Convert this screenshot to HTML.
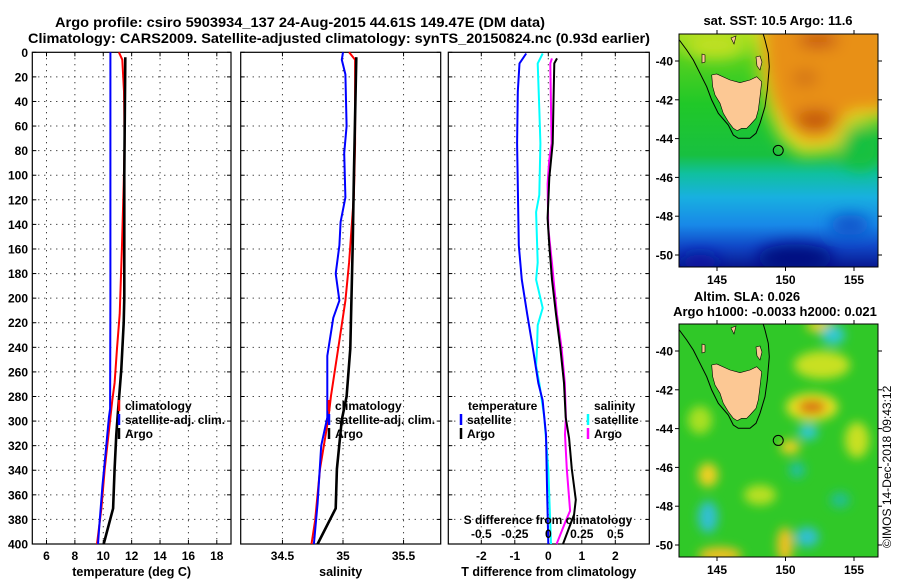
<!DOCTYPE html>
<html><head><meta charset="utf-8"><title>Argo profile</title>
<style>
html,body{margin:0;padding:0;background:#fff;}
svg{display:block;font-family:"Liberation Sans",Arial,sans-serif;font-weight:bold;}
</style></head>
<body>
<svg id="chart" width="900" height="580" viewBox="0 0 900 580" xmlns="http://www.w3.org/2000/svg">
<defs>
  <filter id="blur8" x="-50%" y="-50%" width="200%" height="200%"><feGaussianBlur stdDeviation="8"/></filter>
  <filter id="blur5" x="-50%" y="-50%" width="200%" height="200%"><feGaussianBlur stdDeviation="5"/></filter>
  <clipPath id="clipTop"><rect x="679" y="34" width="199" height="233"/></clipPath>
  <clipPath id="clipBot"><rect x="679" y="324" width="199" height="233"/></clipPath>
  <linearGradient id="sstGrad" x1="0" y1="0" x2="0" y2="1">
    <stop offset="0" stop-color="#a8e020"/>
    <stop offset="0.12" stop-color="#50d020"/>
    <stop offset="0.3" stop-color="#20c828"/>
    <stop offset="0.52" stop-color="#18c040"/>
    <stop offset="0.6" stop-color="#10c0a0"/>
    <stop offset="0.7" stop-color="#18b0e0"/>
    <stop offset="0.82" stop-color="#1888e8"/>
    <stop offset="0.91" stop-color="#1048c8"/>
    <stop offset="1" stop-color="#081890"/>
  </linearGradient>
</defs>
<rect x="0" y="0" width="900" height="580" fill="#fff"/>

<text x="55" y="27" font-size="14" textLength="490" lengthAdjust="spacingAndGlyphs">Argo profile: csiro 5903934_137 24-Aug-2015 44.61S 149.47E (DM data)</text>
<text x="28" y="43" font-size="14" textLength="622" lengthAdjust="spacingAndGlyphs">Climatology: CARS2009. Satellite-adjusted climatology: synTS_20150824.nc (0.93d earlier)</text>

<g id="profiles"></g>

<g>
  <text x="778" y="25" font-size="13" text-anchor="middle">sat. SST: 10.5 Argo: 11.6</text>
  <g clip-path="url(#clipTop)">
    <rect x="679" y="34" width="199" height="233" fill="url(#sstGrad)"/>
    <g filter="url(#blur8)">
      <polygon points="755,20 890,20 890,118 850,125 835,152 800,155 780,138 768,112 760,80" fill="#e8e020"/>
      <polygon points="762,20 890,20 890,110 850,112 830,140 805,142 785,125 772,100 765,70" fill="#e89018"/>
      <ellipse cx="815" cy="120" rx="20" ry="10" fill="#c05010"/>
      <ellipse cx="818" cy="40" rx="20" ry="6" fill="#b83010"/>
      <ellipse cx="805" cy="78" rx="12" ry="6" fill="#c86010"/>
      <ellipse cx="715" cy="45" rx="30" ry="14" fill="#c0e020"/>
      <ellipse cx="860" cy="148" rx="20" ry="22" fill="#18c040"/>
      <ellipse cx="795" cy="258" rx="38" ry="14" fill="#000880"/>
      <ellipse cx="700" cy="262" rx="20" ry="8" fill="#0818a0"/>
      <ellipse cx="850" cy="225" rx="20" ry="10" fill="#1050c8"/>
    </g>
  </g>
  <g class="geo"></g>
  <rect x="679" y="34" width="199" height="233" fill="none" stroke="#000" stroke-width="1"/>
</g>

<g>
  <text x="747" y="301" font-size="13" text-anchor="middle">Altim. SLA: 0.026</text>
  <text x="775" y="316" font-size="13" text-anchor="middle">Argo h1000: -0.0033 h2000: 0.021</text>
  <g clip-path="url(#clipBot)">
    <rect x="679" y="324" width="199" height="233" fill="#30c828"/>
    <g filter="url(#blur5)">
      <ellipse cx="812" cy="407" rx="26" ry="14" fill="#e8e020"/>
      <ellipse cx="812" cy="407" rx="14" ry="7" fill="#d87010"/>
      <ellipse cx="822" cy="365" rx="28" ry="14" fill="#c8e020"/>
      <ellipse cx="820" cy="326" rx="14" ry="6" fill="#f0d020"/>
      <ellipse cx="708" cy="475" rx="10" ry="12" fill="#f0d020"/>
      <ellipse cx="790" cy="447" rx="10" ry="7" fill="#f0d020"/>
      <ellipse cx="857" cy="440" rx="12" ry="18" fill="#c8e020"/>
      <ellipse cx="700" cy="420" rx="12" ry="14" fill="#a8e020"/>
      <ellipse cx="785" cy="545" rx="8" ry="18" fill="#f0c020"/>
      <ellipse cx="720" cy="555" rx="22" ry="8" fill="#f0c020"/>
      <ellipse cx="760" cy="495" rx="16" ry="10" fill="#b8e020"/>
      <ellipse cx="808" cy="432" rx="10" ry="8" fill="#30c8d0"/>
      <ellipse cx="833" cy="335" rx="12" ry="10" fill="#30c8d0"/>
      <ellipse cx="708" cy="517" rx="10" ry="16" fill="#30c0d0"/>
      <ellipse cx="807" cy="537" rx="12" ry="10" fill="#30c0d0"/>
      <ellipse cx="797" cy="470" rx="8" ry="8" fill="#20c0a0"/>
      <ellipse cx="840" cy="500" rx="10" ry="8" fill="#20c090"/>
    </g>
  </g>
  <g class="geo" transform="translate(0,290)"></g>
  <rect x="679" y="324" width="199" height="233" fill="none" stroke="#000" stroke-width="1"/>
  <text transform="translate(891,548) rotate(-90)" font-size="12" font-weight="normal">©IMOS 14-Dec-2018 09:43:12</text>
</g>
<g id="mapAxes"></g>
</svg>
<script>
const depthTicks = [0,20,40,60,80,100,120,140,160,180,200,220,240,260,280,300,320,340,360,380,400];
const tempTicks = [6,8,10,12,14,16,18];
const salTicks = [34.5,35,35.5];
const tdiffTicks = [-2,-1,0,1,2];
const sdiffTicks = [-0.5,-0.25,0,0.25,0.5];

const tempClimDepth = [0,6,32,74,107,157,213,241,269,283,297,339,371,400];
const tempClimValue = [11.1,11.34,11.46,11.5,11.44,11.32,11.16,10.97,10.8,10.64,10.5,10.1,9.87,9.56];
const tempSatDepth = [0,100,200,290,297,325,353,381,400];
const tempSatValue = [10.5,10.5,10.5,10.48,10.4,10.17,9.94,9.75,9.63];
const tempArgoDepth = [4,100,200,220,258,292,311,339,371,400];
const tempArgoValue = [11.55,11.48,11.48,11.44,11.27,11.04,10.92,10.8,10.69,10.03];

const salClimDepth = [0,6,74,116,171,202,241,280,297,339,381,400];
const salClimValue = [35.05,35.10,35.10,35.09,35.05,35.02,34.96,34.90,34.88,34.81,34.77,34.74];
const salSatDepth = [0,6,18,60,82,118,138,157,180,202,216,247,283,297,320,367,400];
const salSatValue = [35.0,34.99,35.02,35.03,35.01,35.02,34.98,34.97,34.94,34.97,34.92,34.87,34.87,34.87,34.82,34.79,34.76];
const salArgoDepth = [4,100,157,241,280,299,339,371,400];
const salArgoValue = [35.11,35.09,35.08,35.06,35.03,34.99,34.95,34.94,34.79];

const tdSatDepth = [1,9,32,74,157,185,213,241,269,283,311,353,400];
const tdSatValue = [-0.66,-0.86,-0.91,-0.93,-0.88,-0.79,-0.63,-0.46,-0.30,-0.17,-0.07,-0.04,0.0];
const tdArgoDepth = [5,9,32,74,102,135,157,185,213,241,269,297,314,339,364,376,400];
const tdArgoValue = [0.26,0.18,0.16,0.13,0.03,-0.02,0.03,0.11,0.23,0.36,0.47,0.52,0.62,0.70,0.82,0.77,0.44];
const sdSatDepth = [1,9,46,74,116,130,171,185,208,222,241,255,269,297,339,400];
const sdSatValue = [-0.042,-0.079,-0.067,-0.059,-0.067,-0.091,-0.079,-0.091,-0.042,-0.079,-0.084,-0.091,-0.067,-0.030,0.0,0.020];
const sdArgoDepth = [5,9,74,88,107,143,171,213,241,269,297,311,339,373,381,400];
const sdArgoValue = [0.027,0.015,0.025,0.007,-0.005,0.0,0.027,0.064,0.099,0.123,0.131,0.125,0.138,0.163,0.131,0.062];

const mapLatTicks = [-40,-42,-44,-46,-48,-50];
const mapLonTicks = [145,150,155];
const argoLon = 149.47, argoLat = -44.61;

const NS = 'http://www.w3.org/2000/svg';
const Y0 = 52.3, Y1 = 544, D1 = 400;
function yD(d){ return Y0 + d*(Y1-Y0)/D1; }
const P1 = {x0:32.3, x1:231};
const P2 = {x0:240.7, x1:440.7};
const P3 = {x0:448.3, x1:649.3};
function xTemp(t){ return P1.x0 + (t-5)*(P1.x1-P1.x0)/14; }
function xSal(s){ return 343 + (s-35)*121.1; }
function xTd(t){ return 548.3 + t*33.5; }
function xSd(s){ return 548.3 + s*4*33.5; }
function lonX(lon){ return 717 + (lon-145)*13.7; }
function latY(lat){ return 61 + (-40-lat)*19.4; }

function mk(tag, attrs, parent){
  const e = document.createElementNS(NS, tag);
  for (const k in attrs) e.setAttribute(k, attrs[k]);
  parent.appendChild(e);
  return e;
}
const root = document.getElementById('profiles');

function panel(P, name, xTicks, xf, labelFmt, xTitle){
  const g = mk('g', {}, root);
  
  
  depthTicks.forEach(d => {
    const y = yD(d);
    if (d>0 && d<400) {
      const gl = mk('line', {x1:P.x0, x2:P.x1, y1:y, y2:y, stroke:'#000', 'stroke-width':1, 'stroke-dasharray':'1 5'}, g);
      
      
    }
    mk('line', {x1:P.x0, x2:P.x0+4, y1:y, y2:y, stroke:'#000'}, g);
    mk('line', {x1:P.x1-4, x2:P.x1, y1:y, y2:y, stroke:'#000'}, g);
  });
  xTicks.forEach(v => {
    const x = xf(v);
    const gl = mk('line', {x1:x, x2:x, y1:Y0, y2:Y1, stroke:'#000', 'stroke-width':1, 'stroke-dasharray':'1 5'}, g);
    
    
    mk('line', {x1:x, x2:x, y1:Y1-4, y2:Y1, stroke:'#000'}, g);
    mk('line', {x1:x, x2:x, y1:Y0, y2:Y0+4, stroke:'#000'}, g);
    const t = mk('text', {x:x, y:560, 'font-size':12, 'text-anchor':'middle'}, g);
    
    
    t.textContent = labelFmt(v);
  });
  const tt = mk('text', {x:(P.x0+P.x1)/2, y:576, 'font-size':12.5, 'text-anchor':'middle'}, g);
  
  
  tt.textContent = xTitle;
  const fr = mk('rect', {x:P.x0, y:Y0, width:P.x1-P.x0, height:Y1-Y0, fill:'none', stroke:'#000', 'stroke-width':1.2}, g);
  
  
  return g;
}
function series(g, depths, vals, xf, color, w, name){
  const pts = depths.map((d,i) => xf(vals[i]).toFixed(1)+','+yD(d).toFixed(1)).join(' ');
  const p = mk('polyline', {points:pts, fill:'none', stroke:color, 'stroke-width':w, 'stroke-linejoin':'round'}, g);
  
  
}
function legend(g, x, y, items){
  items.forEach((it,i) => {
    const yy = y + i*14;
    const m = mk('line', {x1:x, x2:x, y1:yy-10, y2:yy+1, stroke:it.c, 'stroke-width':2.5}, g);
    
    
    const t = mk('text', {x:x+6, y:yy, 'font-size':12}, g);
    
    
    t.textContent = it.t;
  });
}

const g1 = panel(P1, 'temperature-panel', tempTicks, xTemp, v=>String(v), 'temperature (deg C)');
depthTicks.forEach(d => {
  const t = mk('text', {x:28, y:yD(d)+4.5, 'font-size':12, 'text-anchor':'end'}, g1);
  
  
  t.textContent = d;
});
series(g1, tempClimDepth, tempClimValue, xTemp, '#ff0000', 2, 'temperature-climatology-line');
series(g1, tempSatDepth, tempSatValue, xTemp, '#0000ff', 2, 'temperature-satellite-line');
series(g1, tempArgoDepth, tempArgoValue, xTemp, '#000', 2.6, 'temperature-argo-line');
legend(g1, 119, 410, [{c:'#ff0000',t:'climatology'},{c:'#0000ff',t:'satellite-adj. clim.'},{c:'#000',t:'Argo'}]);

const g2 = panel(P2, 'salinity-panel', salTicks, xSal, v=>String(v), 'salinity');
series(g2, salClimDepth, salClimValue, xSal, '#ff0000', 2, 'salinity-climatology-line');
series(g2, salSatDepth, salSatValue, xSal, '#0000ff', 2, 'salinity-satellite-line');
series(g2, salArgoDepth, salArgoValue, xSal, '#000', 2.6, 'salinity-argo-line');
legend(g2, 329, 410, [{c:'#ff0000',t:'climatology'},{c:'#0000ff',t:'satellite-adj. clim.'},{c:'#000',t:'Argo'}]);

const g3 = panel(P3, 'difference-panel', tdiffTicks, xTd, v=>String(v), 'T difference from climatology');
series(g3, sdSatDepth, sdSatValue, xSd, '#00ffff', 2, 'salinity-diff-satellite-line');
series(g3, tdSatDepth, tdSatValue, xTd, '#0000ff', 2, 'temperature-diff-satellite-line');
series(g3, sdArgoDepth, sdArgoValue, xSd, '#ff00ff', 2, 'salinity-diff-argo-line');
series(g3, tdArgoDepth, tdArgoValue, xTd, '#000', 2, 'temperature-diff-argo-line');
{
  const t = mk('text', {x:468, y:410, 'font-size':12}, g3);
  
  
  t.textContent = 'temperature';
  const s = mk('text', {x:594, y:410, 'font-size':12}, g3);
  
  
  s.textContent = 'salinity';
}
legend(g3, 461, 424, [{c:'#0000ff',t:'satellite'},{c:'#000',t:'Argo'}]);
legend(g3, 588, 424, [{c:'#00ffff',t:'satellite'},{c:'#ff00ff',t:'Argo'}]);
{
  const t = mk('text', {x:548, y:524, 'font-size':12, 'text-anchor':'middle'}, g3);
  
  
  t.textContent = 'S difference from climatology';
  sdiffTicks.forEach(v => {
    const l = mk('text', {x:xSd(v), y:538, 'font-size':12, 'text-anchor':'middle'}, g3);
    
    
    l.textContent = String(v);
  });
}

const tas = [[711.7,75],[716.7,74],[730,80],[740,82.7],[750,80],[756.7,76.7],[761.7,81.7],[760,96.7],[758.3,110],[756,118.3],[750,125],[746.7,128.3],[741.7,128.3],[737.3,130.7],[733.3,128.3],[728.3,121.7],[723.3,113.3],[720,103.3],[715,95],[712.7,86.7]];
const contour = [[679.3,40],[686.7,50],[693.3,60],[700,73.3],[706.7,86.7],[711.7,100],[718.3,113.3],[728.3,125],[733.3,135],[738.3,138.3],[750,138.3],[756,133.3],[760,123.3],[765,106.7],[767.3,90],[769.3,66.7],[768.3,53.3],[765,40],[763.3,34.3]];
document.querySelectorAll('.geo').forEach(g => {
  mk('polyline', {points:contour.map(p=>p.join(',')).join(' '), fill:'none', stroke:'#000', 'stroke-width':1}, g);
  const t = mk('polygon', {points:tas.map(p=>p.join(',')).join(' '), fill:'#fcc894', stroke:'#000', 'stroke-width':0.6}, g);
  
  
  mk('polygon', {points:'756,57 760,56 762,62 760,70 757,66', fill:'#fcc894', stroke:'#000', 'stroke-width':0.6}, g);
  mk('polygon', {points:'702,54 705,55 705,62 702,63', fill:'#fcc894', stroke:'#000', 'stroke-width':0.6}, g);
  mk('polygon', {points:'731,38 736,36 734,44', fill:'#fcc894', stroke:'#000', 'stroke-width':0.6}, g);
  const c = mk('circle', {cx:lonX(argoLon), cy:latY(argoLat), r:5, fill:'none', stroke:'#000', 'stroke-width':1}, g);
  
  
});

const ma = document.getElementById('mapAxes');
[0,290].forEach(dy => {
  mapLatTicks.forEach(lat => {
    const y = latY(lat)+dy;
    mk('line', {x1:675, x2:679, y1:y, y2:y, stroke:'#000'}, ma);
    mk('line', {x1:878, x2:882, y1:y, y2:y, stroke:'#000'}, ma);
    const t = mk('text', {x:673, y:y+4.5, 'font-size':12, 'text-anchor':'end'}, ma);
    
    
    t.textContent = lat;
  });
  mapLonTicks.forEach(lon => {
    const x = lonX(lon);
    mk('line', {x1:x, x2:x, y1:267+dy, y2:271+dy, stroke:'#000'}, ma);
    mk('line', {x1:x, x2:x, y1:30+dy, y2:34+dy, stroke:'#000'}, ma);
    const t = mk('text', {x:x, y:284+dy, 'font-size':12, 'text-anchor':'middle'}, ma);
    
    
    t.textContent = lon;
  });
});
</script>
</body></html>
